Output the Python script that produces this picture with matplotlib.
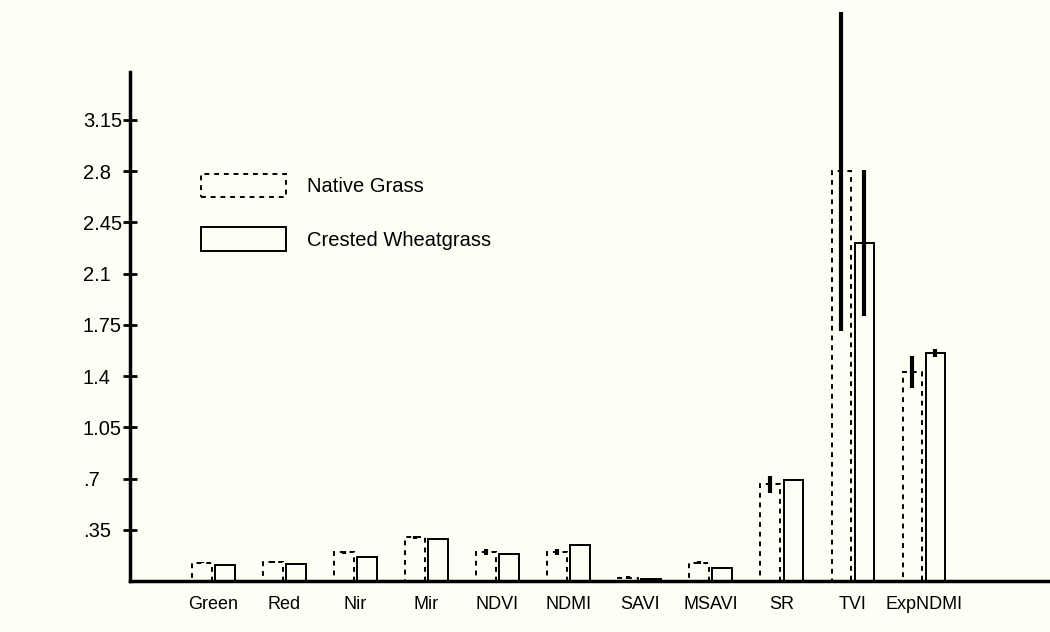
import numpy as np
import matplotlib
matplotlib.use("Agg")
import matplotlib.pyplot as plt

# Índices espectrales y medias por tipo de pastizal
indices = ["Green", "Red", "Nir", "Mir", "NDVI", "NDMI", "SAVI", "MSAVI", "SR", "TVI", "ExpNDMI"]
nativo = [0.125, 0.128, 0.196, 0.300, 0.196, 0.196, 0.022, 0.125, 0.660, 2.800, 1.425]
nativo_err = [0.004, 0.008, 0.012, 0.010, 0.020, 0.020, 0.010, 0.010, 0.060, 1.090, 0.110]
crestado = [0.109, 0.114, 0.165, 0.284, 0.184, 0.246, 0.012, 0.087, 0.690, 2.310, 1.557]
crestado_err = [0.003, 0.005, 0.004, 0.006, 0.008, 0.008, 0.005, 0.006, 0.010, 0.500, 0.025]
yticks = [0.35, 0.7, 1.05, 1.4, 1.75, 2.1, 2.45, 2.8, 3.15]
ytick_labels = [".35", ".7", "1.05", "1.4", "1.75", "2.1", "2.45", "2.8", "3.15"]

fondo = "#fefef4"
plt.rcParams['font.family'] = ['Liberation Sans Narrow', 'Liberation Sans', 'DejaVu Sans']

fig = plt.figure(figsize=(10.5, 6.32), dpi=100, facecolor=fondo)
ax = fig.add_axes([130 / 1050, 51 / 632, 1 - 130 / 1050, 509 / 632])
ax.set_facecolor(fondo)

x = np.arange(len(indices))
ancho = 0.27
b1 = ax.bar(x - 0.162, nativo, ancho, facecolor="none", edgecolor="black",
            linewidth=1.4, linestyle=(0, (2.5, 2.5)), label="Native Grass", zorder=2)
b2 = ax.bar(x + 0.162, crestado, ancho, facecolor="none", edgecolor="black",
            linewidth=1.4, label="Crested Wheatgrass", zorder=2)
ax.errorbar(x - 0.162, nativo, yerr=nativo_err, fmt="none", ecolor="black",
            elinewidth=3, capsize=0, clip_on=False, zorder=3)
ax.errorbar(x + 0.162, crestado, yerr=crestado_err, fmt="none", ecolor="black",
            elinewidth=3, capsize=0, clip_on=False, zorder=3)

ax.set_xlim(-1.176, 11.78)
ax.set_ylim(0, 3.477)

for lado in ["top", "right"]:
    ax.spines[lado].set_visible(False)
ax.spines["left"].set_linewidth(2.5)
ax.spines["bottom"].set_linewidth(2.5)

ax.set_yticks(yticks)
ax.set_yticklabels(ytick_labels, fontsize=14.5)
ax.tick_params(axis="y", direction="inout", length=10, width=2, pad=29)
for etiqueta in ax.get_yticklabels():
    etiqueta.set_horizontalalignment("left")

ax.set_xticks(x)
ax.set_xticklabels(indices, fontsize=13)
ax.tick_params(axis="x", length=0, pad=11)

ax.legend(handles=[b1, b2], loc="upper left", bbox_to_anchor=(201 / 1050, 1 - 174 / 632),
          bbox_transform=fig.transFigure, frameon=False, fontsize=14.5,
          handlelength=4.2, handleheight=1.4, labelspacing=1.5, handletextpad=1.05,
          borderpad=0, borderaxespad=0)

fig.savefig("out.png", dpi=100, facecolor=fondo)
plt.close(fig)
